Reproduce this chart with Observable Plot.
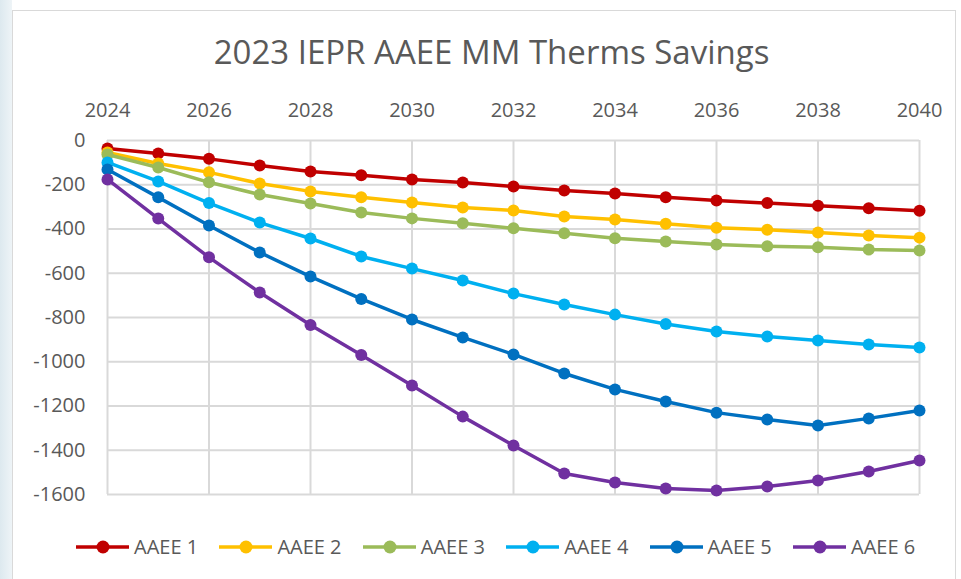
<!DOCTYPE html>
<html>
<head>
<meta charset="utf-8">
<script src="https://cdn.jsdelivr.net/npm/d3@7"></script>
<script src="https://cdn.jsdelivr.net/npm/@observablehq/plot@0.6"></script>
<style>
  html, body { margin: 0; padding: 0; background: #ffffff; }
  #wrap { position: relative; width: 961px; height: 579px; overflow: hidden; background: #ffffff; font-family: "Open Sans", sans-serif; }
  #strip { position: absolute; left: 0; top: 0; width: 12px; height: 579px; background: linear-gradient(to right, #dde9ef, #eef4f7); }
  #frame { position: absolute; left: 12px; top: 10px; width: 942px; height: 600px; border: 1.5px solid #d9d9d9; background: #ffffff; }
  #title { position: absolute; left: 0; width: 983px; top: 30px; text-align: center; font-size: 33px; color: #595959; line-height: 44px; }
  #chart { position: absolute; left: 0; top: 0; }
  #legend { position: absolute; top: 533px; left: 0; width: 961px; height: 28px; font-size: 20px; color: #595959; line-height: 28px; white-space: nowrap; }
  .item { position: absolute; top: 0; display: flex; align-items: center; }
  .item svg { margin-right: 4px; }
</style>
</head>
<body>
<div id="wrap">
  <div id="strip"></div>
  <div id="frame"></div>
  <div id="title">2023 IEPR AAEE MM Therms Savings</div>
  <div id="chart"></div>
  <div id="legend"></div>
</div>
<script>
const years = [2024,2025,2026,2027,2028,2029,2030,2031,2032,2033,2034,2035,2036,2037,2038,2039,2040];
const aaee1 = [-36,-59,-83,-113,-140,-157,-176,-190,-208,-226,-240,-257,-271,-283,-295,-306,-317];
const aaee2 = [-54,-104,-144,-194,-230,-257,-280,-303,-316,-343,-357,-376,-394,-403,-416,-429,-439];
const aaee3 = [-63,-122,-189,-244,-285,-325,-352,-374,-397,-419,-442,-457,-470,-478,-483,-493,-497];
const aaee4 = [-99,-185,-283,-371,-443,-524,-579,-633,-692,-741,-787,-829,-863,-886,-904,-922,-936];
const aaee5 = [-131,-257,-384,-506,-615,-716,-809,-890,-967,-1053,-1125,-1180,-1230,-1261,-1288,-1256,-1220];
const aaee6 = [-176,-353,-528,-687,-834,-970,-1107,-1248,-1379,-1505,-1546,-1573,-1582,-1564,-1537,-1496,-1446];

const seriesNames = ["AAEE 1","AAEE 2","AAEE 3","AAEE 4","AAEE 5","AAEE 6"];
const seriesColors = ["#C00000","#FFC000","#9BBB59","#00B0F0","#0070C0","#7030A0"];
const xTicks = [2024,2026,2028,2030,2032,2034,2036,2038,2040];
const yTicks = [0,-200,-400,-600,-800,-1000,-1200,-1400,-1600];

const allSeries = [aaee1, aaee2, aaee3, aaee4, aaee5, aaee6];
const rows = [];
allSeries.forEach((vals, si) => {
  vals.forEach((v, i) => rows.push({series: seriesNames[si], year: years[i], value: v}));
});

const seriesMarks = [];
seriesNames.forEach((name, si) => {
  const d = rows.filter(r => r.series === name);
  seriesMarks.push(Plot.line(d, {x: "year", y: "value", stroke: seriesColors[si], strokeWidth: 3.5, curve: "linear"}));
  seriesMarks.push(Plot.dot(d, {x: "year", y: "value", fill: seriesColors[si], r: 6, stroke: "none"}));
});

const chart = Plot.plot({
  width: 961,
  height: 579,
  marginTop: 140,
  marginBottom: 85,
  marginLeft: 107,
  marginRight: 42,
  style: {fontFamily: "'Open Sans', sans-serif", fontSize: "20px", color: "#595959", background: "transparent", overflow: "visible"},
  x: {domain: [2024, 2040]},
  y: {domain: [-1600, 0]},
  marks: [
    Plot.ruleY(yTicks, {stroke: "#d9d9d9", strokeWidth: 2}),
    Plot.ruleX(xTicks, {stroke: "#d9d9d9", strokeWidth: 2}),
    Plot.axisX({anchor: "top", ticks: xTicks, tickSize: 0, tickPadding: 24, tickFormat: d => String(d), label: null}),
    Plot.axisY({ticks: yTicks, tickSize: 0, tickPadding: 22, tickFormat: d => String(d), label: null}),
    ...seriesMarks
  ]
});
document.getElementById("chart").appendChild(chart);

const legend = document.getElementById("legend");
seriesNames.forEach((name, si) => {
  const item = document.createElement("div");
  item.className = "item";
  item.style.left = (75 + si * 143.4) + "px";
  item.innerHTML = `<svg width="55" height="16"><line x1="1" y1="8" x2="54" y2="8" stroke="${seriesColors[si]}" stroke-width="3.5"/><circle cx="28" cy="8" r="6.5" fill="${seriesColors[si]}"/></svg><span>${name}</span>`;
  legend.appendChild(item);
});
</script>
</body>
</html>
